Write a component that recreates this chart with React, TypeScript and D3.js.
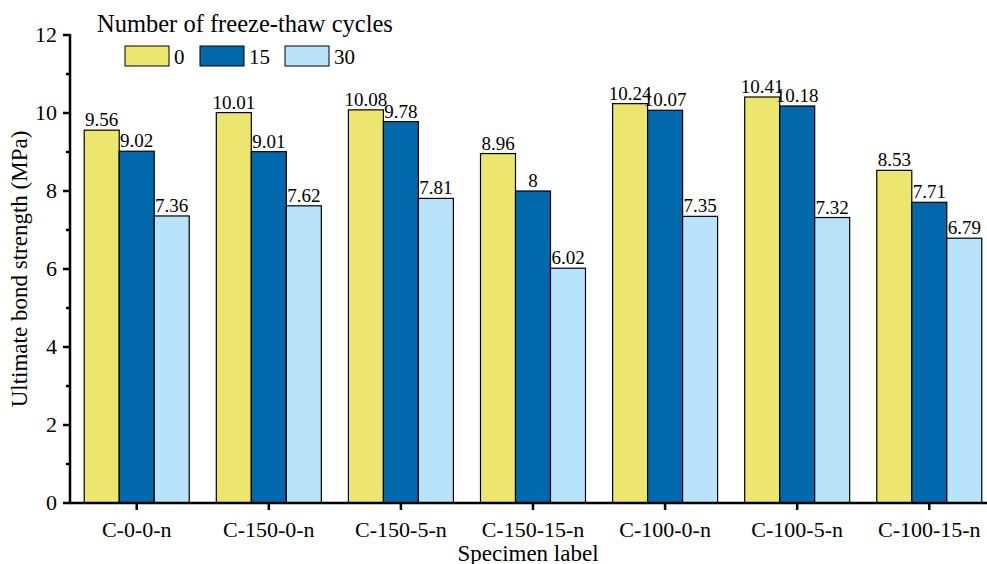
import React from "react";
import * as d3 from "d3";

const specimens = ["C-0-0-n", "C-150-0-n", "C-150-5-n", "C-150-15-n", "C-100-0-n", "C-100-5-n", "C-100-15-n"];
const cycles = ["0", "15", "30"];
const cycles0 = [9.56, 10.01, 10.08, 8.96, 10.24, 10.41, 8.53];
const cycles15 = [9.02, 9.01, 9.78, 8, 10.07, 10.18, 7.71];
const cycles30 = [7.36, 7.62, 7.81, 6.02, 7.35, 7.32, 6.79];
const yTicks = [0, 2, 4, 6, 8, 10, 12];
const colors = ["#ECE56E", "#0068AB", "#B9E3FB"];

const W = 987;
const H = 564;
const font = "'Liberation Serif', 'Times New Roman', serif";

export default function App() {
  const series = [cycles0, cycles15, cycles30];
  const x = d3.scaleBand<string>().domain(specimens).range([71, 995]).paddingInner(0.205).paddingOuter(0.1);
  const y = d3.scaleLinear().domain([0, 12]).range([503, 35]);
  const groupW = 105;
  const x1 = d3.scaleBand<string>().domain(cycles).range([0, groupW]);
  const minor = d3.range(1, 12, 2);

  return (
    <svg width={W} height={H} style={{ position: "absolute", left: 0, top: 0, background: "#fff", fontFamily: font }}>
      {specimens.map((s, i) => {
        const cx = (x(s) as number) + x.bandwidth() / 2;
        const gx = cx - groupW / 2;
        return (
          <g key={s}>
            {series.map((vals, k) => {
              const bx = gx + (x1(cycles[k]) as number);
              const by = y(vals[i]);
              return (
                <g key={k}>
                  <rect x={bx} y={by} width={x1.bandwidth()} height={y(0) - by} fill={colors[k]} stroke="#000" strokeWidth={1.2} />
                  <text x={bx + x1.bandwidth() / 2} y={by - 4} textAnchor="middle" fontSize={19}>
                    {String(vals[i])}
                  </text>
                </g>
              );
            })}
            <line x1={cx} x2={cx} y1={503} y2={510} stroke="#000" strokeWidth={2.5} />
            <text x={cx} y={537} textAnchor="middle" fontSize={22}>{s}</text>
          </g>
        );
      })}
      {/* axes */}
      <line x1={70} x2={70} y1={34} y2={504} stroke="#000" strokeWidth={2.5} />
      <line x1={69} x2={995} y1={503} y2={503} stroke="#000" strokeWidth={2.5} />
      {yTicks.map((t) => (
        <g key={t}>
          <line x1={63} x2={70} y1={y(t)} y2={y(t)} stroke="#000" strokeWidth={2.5} />
          <text x={57} y={y(t) + 7} textAnchor="end" fontSize={22}>{t}</text>
        </g>
      ))}
      {minor.map((t) => (
        <line key={t} x1={66} x2={70} y1={y(t)} y2={y(t)} stroke="#000" strokeWidth={2.5} />
      ))}
      <text transform="translate(27,269) rotate(-90)" textAnchor="middle" fontSize={23}>
        Ultimate bond strength (MPa)
      </text>
      <text x={528} y={561} textAnchor="middle" fontSize={23}>Specimen label</text>
      {/* legend */}
      <text x={97} y={32} fontSize={24.5}>Number of freeze-thaw cycles</text>
      {cycles.map((c, k) => {
        const lx = [125, 200, 285][k];
        return (
          <g key={c}>
            <rect x={lx} y={46} width={44} height={20} fill={colors[k]} stroke="#000" strokeWidth={1} />
            <text x={lx + 49} y={64} fontSize={21}>{c}</text>
          </g>
        );
      })}
    </svg>
  );
}
